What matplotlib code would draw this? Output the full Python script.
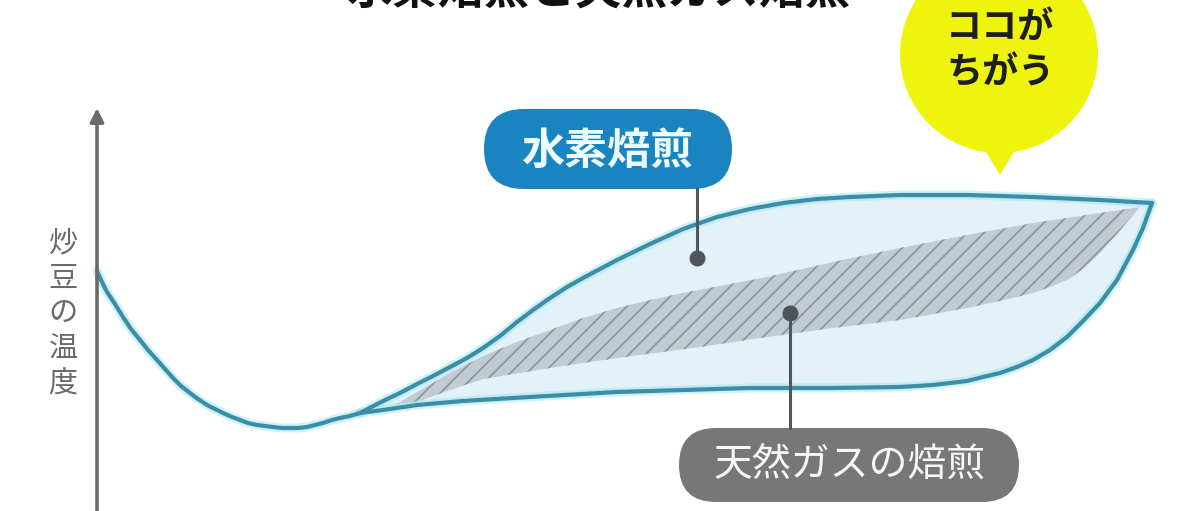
import matplotlib
matplotlib.use("Agg")
import matplotlib.pyplot as plt
from matplotlib.patches import FancyBboxPatch, Circle, Polygon

plt.rcParams['font.family'] = ['Noto Sans CJK JP', 'DejaVu Sans']
plt.rcParams['hatch.linewidth'] = 1.3

# ---- data (x = roasting time, y = bean temperature, arbitrary units) ----
start_x = [97, 102, 107, 115, 123, 131, 140, 148, 157, 165, 173, 181, 190, 198, 207, 215,
           223, 232, 240, 248, 257, 265, 273, 282, 290, 298, 307, 315, 323, 332, 340, 350, 360]
start_t = [240, 229, 219, 207, 194, 182, 171, 161, 151, 142, 133, 125, 118, 112, 106, 102,
           98, 94, 91, 88, 86, 85, 84, 83, 83, 83, 84, 86, 88, 91, 93, 95, 98]

hydrogen_x = [360, 383, 400, 417, 433, 450, 467, 483, 500, 517, 533, 550, 567, 583, 600, 617,
              650, 683, 717, 750, 783, 817, 850, 900, 967, 1033, 1100, 1152]
hydrogen_t = [98, 110, 118, 127, 135, 144, 153, 163, 175, 189, 201, 213, 224, 233, 242, 251,
              267, 282, 294, 302, 308, 312, 314, 316, 316, 314, 311, 308]

gas_x = [360, 383, 417, 463, 530, 617, 683, 750, 833, 900, 933, 967, 983, 1000, 1017, 1033,
         1050, 1067, 1083, 1100, 1117, 1133, 1143, 1152]
gas_t = [98, 101, 106, 110, 114, 119, 121, 123, 123, 124, 126, 130, 134, 138, 144, 151,
         161, 174, 190, 208, 231, 261, 283, 308]

band_top_x = [395, 417, 450, 483, 517, 550, 583, 617, 650, 683, 767, 833, 900, 967, 1033, 1100, 1140]
band_top_t = [106, 119, 138, 155, 169, 181, 193, 203, 211, 218, 234, 249, 263, 276, 288, 298, 304]
band_bot_x = [395, 417, 450, 483, 550, 617, 700, 767, 833, 900, 967, 1000, 1033, 1050, 1067,
              1083, 1100, 1117, 1140]
band_bot_t = [106, 109, 121, 132, 143, 153, 164, 174, 183, 191, 203, 210, 218, 224, 231,
              242, 258, 277, 304]

title_text = "水素焙煎と天然ガス焙煎"
ylabel_chars = ["炒", "豆", "の", "温", "度"]
label_hydrogen = "水素焙煎"
label_gas = "天然ガスの焙煎"
bubble_lines = ["ココが", "ちがう"]

# ---- figure ----
fig = plt.figure(figsize=(12, 5.11), dpi=100)
ax = fig.add_axes([0, 0, 1, 1])
ax.set_xlim(0, 1200)
ax.set_ylim(0, 511)
ax.axis('off')

curve_col = '#3b8ea6'
glow_col = '#a6e6f4'

# light blue area between the two profiles
area = list(zip(hydrogen_x, hydrogen_t)) + list(zip(gas_x[::-1], gas_t[::-1]))
ax.add_patch(Polygon(area, closed=True, facecolor='#e3f1f8', edgecolor='none', zorder=1))

# hatched band
band = list(zip(band_top_x, band_top_t)) + list(zip(band_bot_x[::-1], band_bot_t[::-1]))
ax.add_patch(Polygon(band, closed=True, facecolor='#c2cbd1', edgecolor='#8a98a1',
                     linewidth=0, hatch='//', zorder=2))

# curves (glow + line)
for xs, ts in [(start_x, start_t), (hydrogen_x, hydrogen_t), (gas_x, gas_t)]:
    ax.plot(xs, ts, color=glow_col, lw=6.5, alpha=0.55, solid_joinstyle='round',
            solid_capstyle='round', zorder=3)
    ax.plot(xs, ts, color=curve_col, lw=3, solid_joinstyle='round',
            solid_capstyle='round', zorder=4)

# y axis arrow
ax.annotate('', xy=(97, 403), xytext=(97, -5),
            arrowprops=dict(arrowstyle='-|>', lw=2.6, color='#6a6a6a',
                            mutation_scale=20, shrinkA=0, shrinkB=0), zorder=5)

# y label (vertical stacked characters)
for i, ch in enumerate(ylabel_chars):
    ax.text(63, 268 - i * 35.5, ch, fontsize=21, color='#6a6a6a',
            ha='center', va='center', zorder=6)

# title (mostly cut off at the top edge, as in the original)
ax.text(598, 507, title_text, fontsize=33, fontweight='bold', color='#111111',
        ha='center', va='baseline', zorder=6)

# hydrogen label box
ax.add_patch(FancyBboxPatch((484, 322), 248, 80,
                            boxstyle='round,pad=0,rounding_size=40',
                            facecolor='#1a84c0', edgecolor='none', zorder=6))
ax.text(607, 360, label_hydrogen, fontsize=31, fontweight='bold', color='#ecfbff',
        ha='center', va='center', zorder=7)
ax.plot([697, 697], [322, 253], color='#50565b', lw=2.2, zorder=7)
ax.scatter([697], [253], s=110, color='#4d555b', zorder=8)

# natural gas label box
ax.add_patch(FancyBboxPatch((679, 9), 340, 74,
                            boxstyle='round,pad=0,rounding_size=37',
                            facecolor='#777777', edgecolor='none', zorder=6))
ax.text(849, 45, label_gas, fontsize=28, color='#f7f7f7',
        ha='center', va='center', zorder=7)
ax.plot([790, 790], [83, 198], color='#50565b', lw=2.2, zorder=7)
ax.scatter([790], [198], s=110, color='#4d555b', zorder=8)

# yellow speech bubble
yel = '#eef40c'
ax.add_patch(Circle((999, 457), 99, facecolor=yel, edgecolor='none', zorder=6))
ax.add_patch(Polygon([(978, 372), (1022, 372), (1000, 336)], closed=True,
                     facecolor=yel, edgecolor='none', zorder=6))
ax.text(1000, 484, bubble_lines[0], fontsize=26, fontweight='bold', color='#1e1e1e',
        ha='center', va='center', zorder=7)
ax.text(1000, 438, bubble_lines[1], fontsize=26, fontweight='bold', color='#1e1e1e',
        ha='center', va='center', zorder=7)

fig.savefig('out.png', dpi=100)
